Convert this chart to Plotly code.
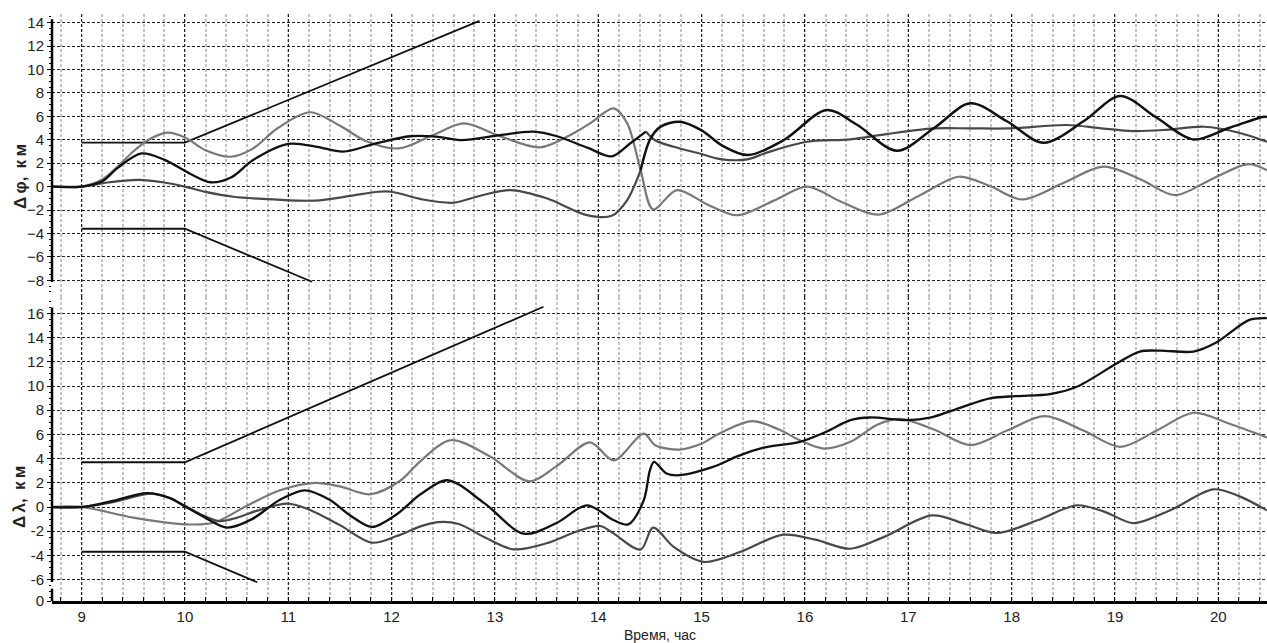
import plotly.graph_objects as go
from plotly.subplots import make_subplots

# ---------------- data ----------------
# Top panel: delta-phi, km
phi_bound_t = [9.0, 10.0, 12.85]
phi_upper = [3.75, 3.75, 14.15]
phi_lower_t = [9.0, 10.0, 11.23]
phi_lower = [-3.6, -3.6, -8.13]

# series drawn black before the switch and dark gray after
phi_mid_t = [8.7, 9.0, 9.2, 9.35, 9.58, 9.8, 10.05, 10.25, 10.45, 10.66, 11.0, 11.28,
             11.53, 11.85, 12.18, 12.45, 12.68, 13.05, 13.37, 13.6, 13.9, 14.13, 14.31,
             14.46, 14.55, 14.73, 14.99, 15.18, 15.44, 15.63, 16.02, 16.44, 16.8, 17.24,
             17.6, 17.98, 18.53, 18.85, 19.18, 19.5, 19.86, 20.2, 20.47]
phi_mid = [0, 0, 0.45, 1.6, 2.83, 2.3, 1.1, 0.37, 0.8, 2.27, 3.65, 3.4,
           2.98, 3.69, 4.3, 4.25, 3.97, 4.4, 4.69, 4.3, 3.3, 2.58, 3.7,
           4.7, 3.96, 3.4, 2.8, 2.35, 2.32, 2.9, 3.83, 4.03, 4.5, 4.97,
           4.97, 4.97, 5.26, 5.0, 4.74, 4.85, 5.11, 4.6, 3.83]

# series drawn dark gray before the switch and black after
phi_low_t = [8.7, 9.0, 9.25, 9.55, 9.8, 10.0, 10.2, 10.47, 10.86, 11.26, 11.6, 11.87,
             12.0, 12.3, 12.6, 12.85, 13.15, 13.5, 13.89, 14.13, 14.28, 14.41, 14.5,
             14.6, 14.79, 15.0, 15.2, 15.45, 15.8, 16.21, 16.5, 16.89, 17.25, 17.6,
             17.95, 18.31, 18.7, 19.05, 19.4, 19.76, 20.1, 20.44, 20.47]
phi_low = [0, 0, 0.35, 0.57, 0.35, 0.0, -0.45, -0.87, -1.1, -1.2, -0.8, -0.44,
           -0.44, -1.1, -1.38, -0.8, -0.3, -1.0, -2.44, -2.5, -1.15, 1.4, 4.0,
           5.1, 5.54, 4.8, 3.5, 2.69, 4.0, 6.54, 5.3, 3.06, 5.0, 7.11,
           5.6, 3.74, 5.6, 7.74, 5.9, 4.03, 5.0, 5.97, 5.95]

phi_switch = 14.46

# gray series
phi_gray_t = [8.7, 9.0, 9.2, 9.35, 9.5, 9.65, 9.83, 10.0, 10.2, 10.44, 10.65, 10.9,
              11.21, 11.5, 11.75, 12.07, 12.4, 12.7, 13.05, 13.44, 13.76, 13.92, 14.15,
              14.28, 14.41, 14.53, 14.76, 15.05, 15.34, 15.7, 16.02, 16.35, 16.71,
              17.1, 17.49, 17.8, 18.1, 18.5, 18.89, 19.25, 19.58, 19.95, 20.29, 20.47]
phi_gray = [0, 0, 0.6, 1.7, 3.0, 4.0, 4.6, 4.2, 3.1, 2.55, 3.2, 5.0,
            6.35, 5.2, 3.9, 3.26, 4.4, 5.4, 4.3, 3.35, 4.55, 5.4, 6.68,
            5.4, 1.4, -1.95, -0.3, -1.5, -2.45, -1.2, 0.0, -1.3, -2.4,
            -0.8, 0.84, 0.0, -1.1, 0.3, 1.7, 0.6, -0.73, 0.7, 1.92, 1.4]

# Bottom panel: delta-lambda, km
lam_bound_t = [9.0, 10.0, 13.47]
lam_upper = [3.7, 3.7, 16.55]
lam_lower_t = [9.0, 10.0, 10.7]
lam_lower = [-3.7, -3.7, -6.22]

lam_black_t = [8.7, 9.0, 9.3, 9.63, 9.85, 10.0, 10.2, 10.41, 10.65, 10.92, 11.16, 11.4,
               11.6, 11.81, 12.05, 12.28, 12.54, 12.9, 13.28, 13.6, 13.89, 14.15, 14.29,
               14.44, 14.5, 14.54, 14.66, 14.79, 15.11, 15.35, 15.6, 15.95, 16.2, 16.44,
               16.63, 16.99, 17.21, 17.5, 17.79, 18.04, 18.37, 18.63, 19.02, 19.24,
               19.44, 19.76, 19.98, 20.3, 20.47]
lam_black = [0, 0, 0.5, 1.15, 0.75, 0.05, -0.9, -1.7, -1.0, 0.6, 1.38, 0.6,
             -0.7, -1.65, -0.6, 1.05, 2.21, 0.3, -2.21, -1.3, 0.14, -1.1, -1.44,
             0.56, 3.04, 3.73, 2.77, 2.63, 3.31, 4.2, 4.9, 5.39, 6.2, 7.18,
             7.4, 7.18, 7.38, 8.2, 8.98, 9.17, 9.34, 9.94, 11.88, 12.85,
             12.93, 12.85, 13.6, 15.47, 15.61]

lam_gray_t = [8.7, 9.0, 9.5, 10.0, 10.28, 10.6, 10.92, 11.26, 11.5, 11.79, 12.08, 12.28,
              12.57, 12.95, 13.33, 13.6, 13.92, 14.15, 14.44, 14.55, 14.79, 14.99, 15.2,
              15.49, 15.75, 15.95, 16.18, 16.44, 16.7, 16.92, 17.25, 17.6, 17.95, 18.32,
              18.7, 19.05, 19.4, 19.76, 20.1, 20.47]
lam_gray = [0, 0, -0.88, -1.43, -1.3, 0.1, 1.38, 2.0, 1.7, 1.05, 2.15, 3.8,
            5.52, 4.2, 2.13, 3.4, 5.35, 3.85, 6.07, 5.11, 4.75, 5.2, 6.2,
            7.1, 6.4, 5.52, 4.83, 5.39, 6.8, 7.28, 6.4, 5.11, 6.3, 7.51,
            6.3, 4.97, 6.3, 7.79, 6.9, 5.75]

lam_dgray_t = [8.7, 9.0, 9.3, 9.67, 9.85, 10.0, 10.15, 10.33, 10.5, 10.7, 10.99, 11.2,
               11.5, 11.81, 12.05, 12.28, 12.45, 12.65, 12.9, 13.18, 13.5, 13.8, 14.02,
               14.15, 14.41, 14.53, 14.73, 15.02, 15.37, 15.79, 16.1, 16.44, 16.76,
               17.23, 17.55, 17.86, 18.25, 18.63, 18.9, 19.18, 19.55, 19.95, 20.2, 20.47]
lam_dgray = [0, 0, 0.4, 1.1, 0.75, 0.1, -0.6, -1.16, -0.9, -0.3, 0.28, -0.2,
             -1.5, -2.95, -2.4, -1.6, -1.25, -1.4, -2.5, -3.5, -3.0, -2.0, -1.57,
             -2.2, -3.52, -1.7, -3.3, -4.54, -3.72, -2.29, -2.7, -3.45, -2.49,
             -0.69, -1.4, -2.15, -1.1, 0.14, -0.4, -1.33, -0.2, 1.46, 0.9, -0.28]

x_ticks = list(range(9, 21))
phi_ticks = list(range(-8, 15, 2))
lam_ticks = list(range(-6, 17, 2))

X_RANGE = [8.714, 20.471]
PHI_RANGE = [-9.44, 14.74]
LAM_RANGE = [-7.77, 17.35]

BLACK = "#111111"
DGRAY = "#484848"
GRAY = "#787878"
FONT = "Liberation Sans, Arial, sans-serif"

fig = make_subplots(rows=2, cols=1, shared_xaxes=True, vertical_spacing=0)


def line(t, v, color, width, row, shape="spline"):
    fig.add_trace(go.Scatter(x=t, y=v, mode="lines",
                             line=dict(color=color, width=width, shape=shape, smoothing=0.9),
                             hoverinfo="skip"), row=row, col=1)


def split(t, v, ts):
    i = max(k for k, tt in enumerate(t) if tt <= ts)
    return (t[:i + 1], v[:i + 1]), (t[i:], v[i:])


# top panel
line(phi_bound_t, phi_upper, BLACK, 1.8, 1, "linear")
line(phi_lower_t, phi_lower, BLACK, 1.8, 1, "linear")
line(phi_gray_t, phi_gray, GRAY, 2.2, 1)
(a, b) = split(phi_mid_t, phi_mid, phi_switch)
line(*b, DGRAY, 2.2, 1)
(c, d) = split(phi_low_t, phi_low, phi_switch)
line(*c, DGRAY, 2.2, 1)
line(*a, BLACK, 2.3, 1)
line(*d, BLACK, 2.5, 1)

# bottom panel
line(lam_bound_t, lam_upper, BLACK, 1.8, 2, "linear")
line(lam_lower_t, lam_lower, BLACK, 1.8, 2, "linear")
line(lam_gray_t, lam_gray, GRAY, 2.2, 2)
line(lam_dgray_t, lam_dgray, DGRAY, 2.2, 2)
line(lam_black_t, lam_black, BLACK, 2.3, 2)

grid = dict(showgrid=True, gridcolor="#222222", gridwidth=1, griddash="3px,2px",
            zeroline=False, automargin=False)
xcommon = dict(range=X_RANGE, tickmode="array", tickvals=x_ticks, **grid,
               minor=dict(tickmode="linear", tick0=0, dtick=0.2, showgrid=True,
                          gridcolor="#c4c4c4", gridwidth=1.5))
fig.update_xaxes(**xcommon, showticklabels=False, ticks="", showline=False, row=1, col=1)
fig.update_xaxes(**xcommon, row=2, col=1)
fig.update_layout(xaxis2=dict(showticklabels=True, ticks="inside", ticklen=4, tickcolor="black",
                              showline=True, linecolor="black", linewidth=2.5,
                              tickfont=dict(family=FONT, size=15, color="#222"),
                              minor=dict(ticks="inside", ticklen=4, tickcolor="black")))

ycommon = dict(**grid, ticks="outside", ticklen=4, tickcolor="black", showline=False,
               tickfont=dict(family=FONT, size=15, color="#222"),
               minor=dict(tickmode="linear", tick0=0, dtick=0.5, ticks="outside",
                          ticklen=2, tickcolor="black", showgrid=False))
fig.update_layout(
    yaxis=dict(domain=[0.5177, 1], range=PHI_RANGE, tickmode="array", tickvals=phi_ticks, **ycommon),
    yaxis2=dict(domain=[0, 0.5177], range=LAM_RANGE, tickmode="array",
                tickvals=[LAM_RANGE[0]] + lam_ticks,
                ticktext=["0"] + [str(v) for v in lam_ticks], **ycommon),
)

# y axis lines (with gaps between the panels and an axis break below -6)
shapes = [
    dict(type="line", xref="paper", x0=0, x1=0, yref="y", y0=phi_ticks[0] - 0.15, y1=phi_ticks[-1] + 0.3),
    dict(type="line", xref="paper", x0=0, x1=0, yref="y2", y0=lam_ticks[0] - 0.2, y1=lam_ticks[-1] + 0.5),
    dict(type="line", xref="paper", x0=0, x1=0, yref="y2", y0=LAM_RANGE[0], y1=lam_ticks[0] - 0.75),
]
for s in shapes:
    s["line"] = dict(color="black", width=2.5)
    s["layer"] = "above"

fig.update_layout(
    width=1267, height=643,
    margin=dict(l=52, r=0, t=14, b=42, autoexpand=False),
    plot_bgcolor="white", paper_bgcolor="white",
    showlegend=False,
    shapes=shapes,
    annotations=[
        dict(text="Время, час", xref="paper", yref="paper", x=0.5, y=-0.0579,
             xanchor="center", yanchor="middle", showarrow=False,
             font=dict(family=FONT, size=14, color="#222")),
        dict(text="<b>Δ\u2009φ,\u2009 к\u2009м</b>", xref="paper", yref="paper", x=-0.0263, y=0.7223,
             xanchor="center", yanchor="middle", textangle=-90, showarrow=False,
             font=dict(family=FONT, size=17, color="#222")),
        dict(text="<b>Δ\u2009λ,\u2009 к\u2009м</b>", xref="paper", yref="paper", x=-0.0263, y=0.1772,
             xanchor="center", yanchor="middle", textangle=-90, showarrow=False,
             font=dict(family=FONT, size=17, color="#222")),
    ],
)

fig.write_html("out.html", config={"displayModeBar": False},
               post_script="document.body.style.margin='0';document.body.style.overflow='hidden';")
